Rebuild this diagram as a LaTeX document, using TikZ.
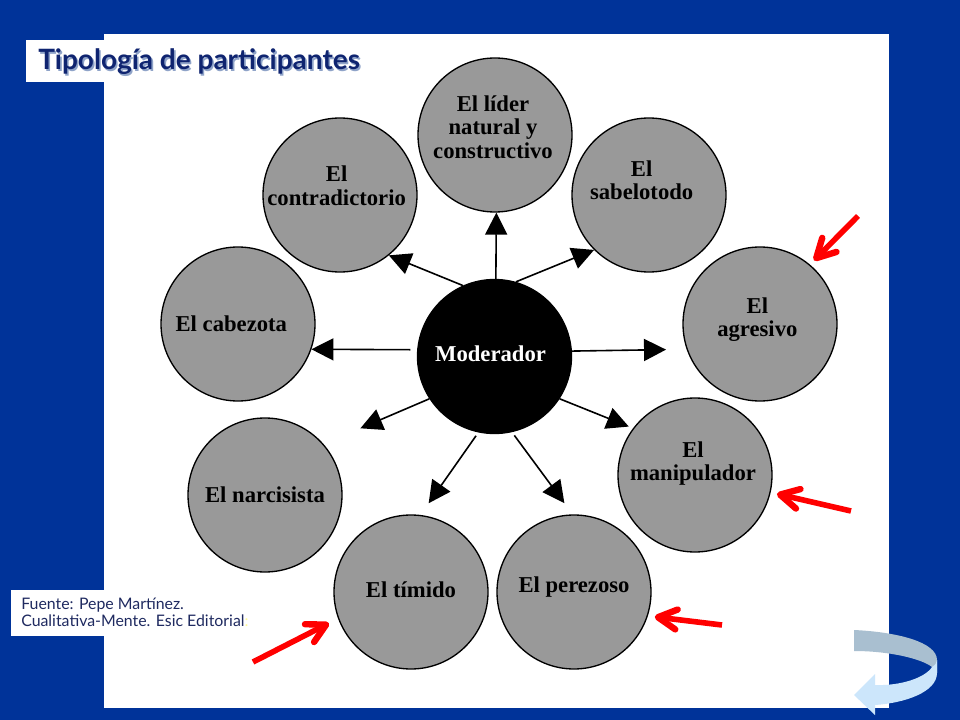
\documentclass[tikz,border=0pt]{standalone}
\usepackage{xcolor}
\usepackage{fontspec}
\setmainfont{Liberation Serif}
\newfontfamily\notefont{Lato}
\usetikzlibrary{arrows.meta}
\definecolor{slideblue}{HTML}{003399}
\definecolor{notenavy}{HTML}{1F2A60}
\definecolor{titlenavy}{HTML}{0F2470}
\definecolor{titleshade}{HTML}{8FA3C8}
\definecolor{ringgray}{HTML}{999999}
\definecolor{bandback}{HTML}{A9BFD0}
\definecolor{bandfront}{HTML}{CCE6FB}
\newcommand{\softshade}[1]{\rlap{\kern1.2pt\raisebox{-1.2pt}{\color{titleshade}#1}}#1}
\tikzset{
	person/.style={circle, draw=black, line width=1pt, fill=ringgray, minimum size=115.5pt, inner sep=0pt},
	persontext/.style={font=\fontsize{17}{17.5}\selectfont\bfseries, align=center, text=black, inner sep=0pt},
	spoke/.style={line width=1.2pt, -{Triangle[length=16.5pt,width=16.5pt]}},
	pointer/.style={red, line width=4.2pt, -{Straight Barb[length=14pt,width=15pt,line width=4.8pt,round]}}
}
\begin{document}
\begin{tikzpicture}[x=0.75pt, y=-0.75pt]
	\useasboundingbox (0,0) rectangle (960,720);
	\fill[slideblue] (0,0) rectangle (960,720);
	\fill[white] (104,34) rectangle (889,708);
	\fill[white] (26,40) rectangle (370,82);
	\fill[white] (11,590) rectangle (250,636);

	\node[person, fill=black, label={[persontext, text=white, xshift=-3pt, yshift=2pt]center:Moderador}] (Moderador) at (494.5,356.5) {};
	\node[person, label={[persontext, xshift=-1.5pt, yshift=6pt]center:El líder\\natural y\\constructivo}] (Lider) at (495,135) {};
	\node[person, label={[persontext, xshift=-2.5pt, yshift=7pt]center:El\\contradictorio}] (Contradictorio) at (340,195) {};
	\node[person, label={[persontext, xshift=-5.5pt, yshift=11pt]center:El\\sabelotodo}] (Sabelotodo) at (649,195) {};
	\node[person, label={[persontext, xshift=-2pt, yshift=3.5pt]center:El\\agresivo}] (Agresivo) at (760,324) {};
	\node[person, label={[persontext, xshift=-1.5pt, yshift=8.5pt]center:El\\manipulador}] (Manipulador) at (695,475) {};
	\node[person, label={[persontext, yshift=3.5pt]center:El perezoso}] (Perezoso) at (574,592) {};
	\node[person, label={[persontext, yshift=1.5pt]center:El tímido}] (Timido) at (411,592) {};
	\node[person, label={[persontext]center:El narcisista}] (Narcisista) at (265,495) {};
	\node[person, label={[persontext, xshift=-5pt]center:El cabezota}] (Cabezota) at (238,324) {};

	\draw[spoke] (Moderador.89) -- (Lider.-89);
	\draw[spoke] (Moderador.114) -- (Contradictorio.-51);
	\draw[spoke] (Moderador.74) -- (Sabelotodo.225);
	\draw[spoke, shorten >=15.4pt] (Moderador.4.5) -- (Agresivo.199.5);
	\draw[spoke, shorten <=5pt] (Moderador.175.5) -- (Cabezota.-19.5);
	\draw[spoke, shorten >=30pt] (Moderador.213.7) -- (Narcisista.41.6);
	\draw[spoke, shorten >=3.4pt] (Moderador.-33) -- (Manipulador.143.6);
	\draw[spoke, shorten <=3pt, shorten >=10.7pt] (Moderador.258) -- (Timido.83.8);
	\draw[spoke, shorten <=3pt, shorten >=10.4pt] (Moderador.-77.3) -- (Perezoso.91.2);

	\coordinate (AgresivoTail) at (858,216);
	\coordinate (ManipuladorTail) at (851,511);
	\coordinate (PerezosoTail) at (722,625);
	\coordinate (TimidoTail) at (253,662);
	\draw[pointer, shorten >=4.3pt] (AgresivoTail) -- (Agresivo.50.2);
	\draw[pointer, shorten >=4.8pt] (ManipuladorTail) -- (Manipulador.-13.8);
	\draw[pointer, shorten >=5.2pt] (PerezosoTail) -- (Perezoso.-18.1);
	\draw[pointer, shorten >=7.6pt] (TimidoTail) -- (Timido.200.6);

	\node[font=\notefont\bfseries\fontsize{21}{23}\selectfont, text=titlenavy, inner sep=0pt, anchor=west] (Titulo) at (38,62.5) {\softshade{Tipología de participantes}};
	\node[font=\notefont\fontsize{11.9}{13}\selectfont, text=notenavy, inner sep=0pt, anchor=west, align=left] (Fuente) at (21,612.5) {Fuente: Pepe Martínez.\\Cualitativa-Mente. Esic Editorial{\color{yellow!40}:}};

	\fill[bandback] (854,630) .. controls (897,632) and (937,642) .. (937,660) -- (937,673) .. controls (936,670) and (935,669) .. (932,667) .. controls (922,659) and (890,651) .. (854,651) -- cycle;
	\fill[bandfront] (937,660) -- (937,673) .. controls (937,692) and (905,703) .. (875,705) -- (875,715) -- (854,695) -- (875,674) -- (875,685) .. controls (900,686) and (925,678) .. (932,667) .. controls (935,665) and (937,663) .. (937,660) -- cycle;
\end{tikzpicture}
\end{document}
